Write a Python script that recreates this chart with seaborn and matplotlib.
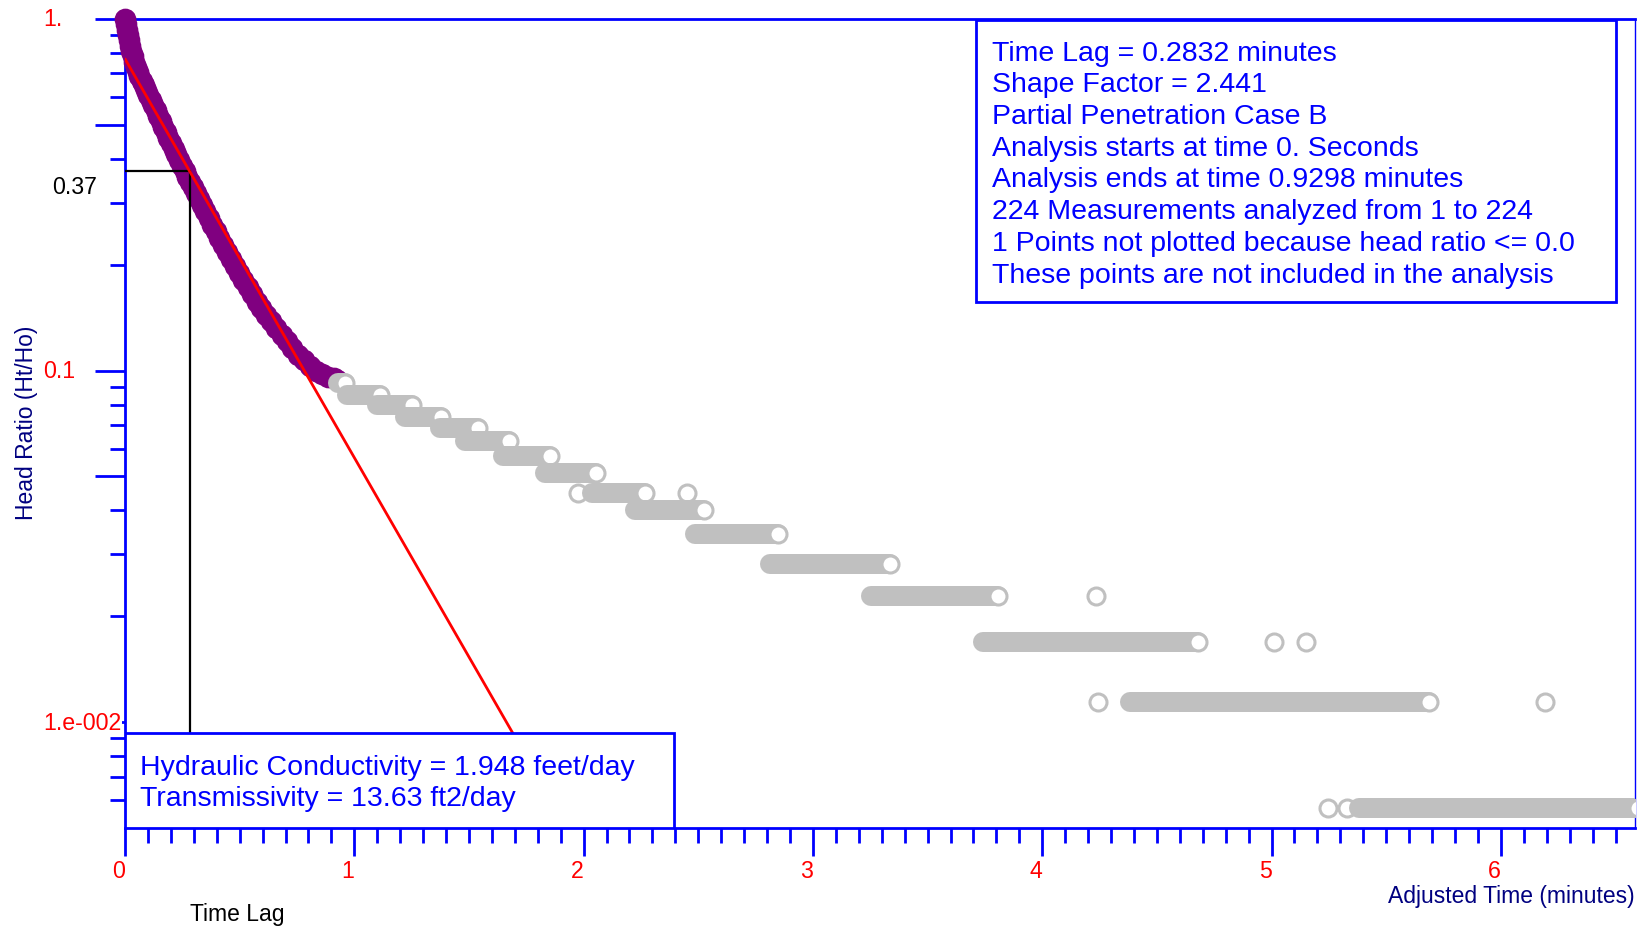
import matplotlib
matplotlib.use("Agg")
import matplotlib.pyplot as plt
import matplotlib.transforms as mtransforms
from matplotlib.patches import Rectangle
from matplotlib.ticker import FixedLocator, MultipleLocator, NullFormatter
import seaborn as sns

# analysed measurements (time in minutes, head ratio Ht/Ho)
purple_t = [0.000, 0.004, 0.008, 0.012, 0.017, 0.022, 0.027, 0.033, 0.040, 0.047,
            0.055, 0.063, 0.072, 0.081, 0.091, 0.101, 0.112, 0.123, 0.134, 0.145,
            0.156, 0.167, 0.178, 0.189, 0.200, 0.212, 0.224, 0.236, 0.248, 0.260,
            0.272, 0.284, 0.296, 0.308, 0.322, 0.336, 0.350, 0.365, 0.380, 0.396,
            0.412, 0.428, 0.445, 0.462, 0.480, 0.498, 0.516, 0.535, 0.555, 0.575,
            0.595, 0.616, 0.638, 0.660, 0.683, 0.706, 0.730, 0.755, 0.780, 0.806,
            0.832, 0.858, 0.884, 0.910, 0.925]
purple_h = [1.000, 0.965, 0.930, 0.900, 0.870, 0.840, 0.812, 0.785, 0.757, 0.731,
            0.708, 0.687, 0.667, 0.647, 0.627, 0.608, 0.590, 0.570, 0.550, 0.531,
            0.512, 0.494, 0.476, 0.460, 0.444, 0.428, 0.412, 0.397, 0.383, 0.369,
            0.356, 0.344, 0.332, 0.321, 0.308, 0.296, 0.284, 0.272, 0.260, 0.249,
            0.238, 0.228, 0.218, 0.208, 0.198, 0.189, 0.181, 0.173, 0.165, 0.157,
            0.151, 0.144, 0.138, 0.132, 0.126, 0.121, 0.116, 0.111, 0.107, 0.103,
            0.100, 0.098, 0.096, 0.095, 0.094]

# later measurements, recorded as runs of equal head ratio
grey_level = [0.092, 0.085, 0.080, 0.074, 0.0685, 0.063, 0.057, 0.051,
              0.045, 0.040, 0.0344, 0.0282, 0.0229, 0.0169, 0.0114, 0.0057]
grey_start = [0.929, 0.968, 1.099, 1.221, 1.374, 1.483, 1.648, 1.832,
              2.037, 2.224, 2.486, 2.813, 3.253, 3.742, 4.383, 5.382]
grey_end = [0.959, 1.112, 1.252, 1.378, 1.539, 1.675, 1.853, 2.054,
            2.268, 2.525, 2.848, 3.336, 3.807, 4.680, 5.687, 6.600]
grey_single_t = [1.976, 2.449, 4.235, 5.011, 5.150, 4.243, 6.193, 5.246, 5.329]
grey_single_h = [0.045, 0.045, 0.0229, 0.0169, 0.0169, 0.0114, 0.0114, 0.0057, 0.0057]

# fitted straight line
fit_t = [0.0, 1.929]
fit_h = [0.77, 0.005]

time_lag = 0.2832
lag_ratio = 0.37

xtick_vals = [0, 1, 2, 3, 4, 5, 6]
ytick_vals = [1.0, 0.1, 0.01]
ytick_text = ["1.", "0.1", "1.e-002"]

info_lines = [
    "Time Lag = 0.2832 minutes",
    "Shape Factor = 2.441",
    "Partial Penetration Case B",
    "Analysis starts at time 0. Seconds",
    "Analysis ends at time 0.9298 minutes",
    "224 Measurements analyzed from 1 to 224",
    "1 Points not plotted because head ratio <= 0.0",
    "These points are not included in the analysis",
]
result_lines = [
    "Hydraulic Conductivity = 1.948 feet/day",
    "Transmissivity = 13.63 ft2/day",
]

sns.set_theme(style="white")
plt.rcParams["font.family"] = ["Liberation Sans", "DejaVu Sans"]

BLUE = "#0000FF"
NAVY = "#000080"
GREY = "#C0C0C0"
PURPLE = "#800080"

fig = plt.figure(figsize=(16.37, 9.29), dpi=100)
ax = fig.add_axes([125 / 1637, 100 / 929, 1510 / 1637, 809 / 929])
ax.set_yscale("log")
ax.set_xlim(0, 6.585)
ax.set_ylim(0.005, 1)

sns.scatterplot(x=purple_t, y=purple_h, ax=ax, color=PURPLE, edgecolor=PURPLE,
                s=180, linewidth=2.2, zorder=3, clip_on=False)

# time lag construction, drawn over the points
ax.plot([0, time_lag], [lag_ratio, lag_ratio], color="black", lw=1.6, zorder=3.5)
ax.plot([time_lag, time_lag], [lag_ratio, 0.005], color="black", lw=1.6, zorder=3.5)

sns.lineplot(x=fit_t, y=fit_h, ax=ax, color="red", lw=2, zorder=4)

sns.scatterplot(x=grey_single_t, y=grey_single_h, ax=ax, color="white", edgecolor=GREY,
                s=150, linewidth=2.2, zorder=5)
for i in range(len(grey_level)):
    z = 6 + i * 0.01
    ax.plot([grey_start[i], grey_end[i]], [grey_level[i], grey_level[i]], color=GREY,
            lw=14.4, solid_capstyle="round", zorder=z)
    sns.scatterplot(x=[grey_end[i]], y=[grey_level[i]], ax=ax, color="white",
                    edgecolor=GREY, s=150, linewidth=2.2, zorder=z + 0.005)

# axes styling
for side in ["left", "top", "bottom"]:
    ax.spines[side].set_color(BLUE)
    ax.spines[side].set_linewidth(2)
ax.spines["right"].set_color(BLUE)
ax.spines["right"].set_linewidth(1)

ax.yaxis.set_major_locator(FixedLocator([1.0, 0.5, 0.1, 0.05, 0.01]))
ax.yaxis.set_minor_locator(FixedLocator(
    [0.9, 0.8, 0.7, 0.6, 0.4, 0.3, 0.2, 0.09, 0.08, 0.07, 0.06, 0.04, 0.03, 0.02,
     0.009, 0.008, 0.007, 0.006]))
ax.yaxis.set_major_formatter(NullFormatter())
ax.yaxis.set_minor_formatter(NullFormatter())

ax.set_xticks(xtick_vals)
ax.set_xticklabels([str(v) for v in xtick_vals], color="red", fontsize=16.7, ha="right")
ax.xaxis.set_minor_locator(MultipleLocator(0.1))

ax.tick_params(axis="both", which="both", direction="out", color=BLUE, width=2,
               bottom=True, left=True, top=False, right=False)
ax.tick_params(axis="y", which="major", length=21.6)
ax.tick_params(axis="y", which="minor", length=10.8)
ax.tick_params(axis="x", which="major", length=20, pad=2)
ax.tick_params(axis="x", which="minor", length=11)

for v, t in zip(ytick_vals, ytick_text):
    ax.text(-0.0543, v, t, transform=ax.get_yaxis_transform(), ha="left", va="center",
            color="red", fontsize=16.7, zorder=12,
            bbox=dict(facecolor="white", edgecolor="none", pad=0.5))
shift_down = mtransforms.ScaledTranslation(0, -0.045, fig.dpi_scale_trans)
ax.text(-0.0483, lag_ratio, "0.37", transform=ax.get_yaxis_transform() + shift_down,
        ha="left", va="top", color="black", fontsize=16.7)

# info box
ax.add_patch(Rectangle((0.5636, 0.6502), 0.4238, 0.3486, transform=ax.transAxes,
                       facecolor="white", edgecolor=BLUE, lw=2, zorder=10))
for i, line in enumerate(info_lines):
    ax.text(0.5742, 0.9585 - i * 0.0392, line, transform=ax.transAxes, ha="left",
            va="center", color=BLUE, fontsize=20.5, zorder=11)

# results box
ax.add_patch(Rectangle((0, 0), 0.3636, 0.1174, transform=ax.transAxes,
                       facecolor="white", edgecolor=BLUE, lw=2, zorder=10))
for i, line in enumerate(result_lines):
    ax.text(0.0099, 0.0759 - i * 0.0392, line, transform=ax.transAxes, ha="left",
            va="center", color=BLUE, fontsize=20.5, zorder=11)

fig.text(27 / 1637, 1 - 423 / 929, "Head Ratio (Ht/Ho)", rotation=90, ha="center",
         va="center", color=NAVY, fontsize=16.5)
fig.text(1635 / 1637, 1 - 897 / 929, "Adjusted Time (minutes)", ha="right",
         va="center", color=NAVY, fontsize=16.5)
trans = mtransforms.blended_transform_factory(ax.transData, fig.transFigure)
ax.text(time_lag, 1 - 914.5 / 929, "Time Lag", transform=trans, ha="left",
        va="center", color="black", fontsize=16.5)

fig.savefig("out.png", dpi=100)
